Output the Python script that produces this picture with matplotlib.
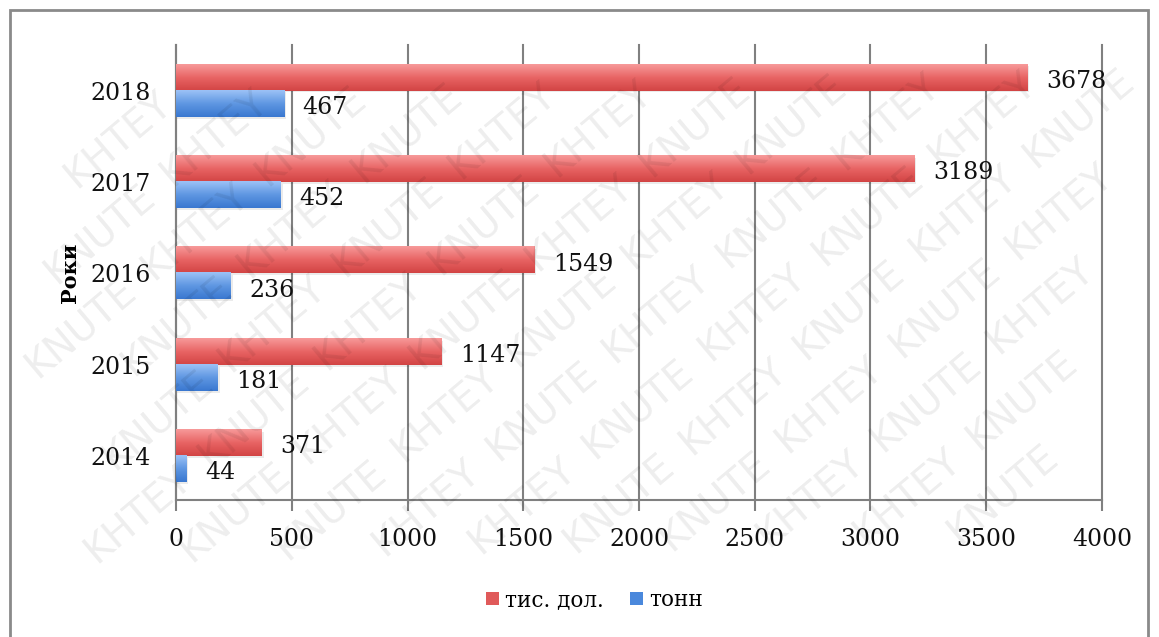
import numpy as np
import matplotlib
matplotlib.use("Agg")
from matplotlib import pyplot as plt
from matplotlib.colors import LinearSegmentedColormap
from matplotlib.patches import Rectangle

years = ["2014", "2015", "2016", "2017", "2018"]
usd_thousand = [371, 1147, 1549, 3189, 3678]   # тис. дол.
tonnes = [44, 181, 236, 452, 467]              # тонн

plt.rcParams['font.family'] = ['DejaVu Serif']

W, H = 1159, 637
fig = plt.figure(figsize=(W / 100, H / 100), dpi=100)
ax = fig.add_axes([0.1519, 0.2151, 0.7989, 0.7143])

y = np.arange(len(years))
h = 0.285
red_bars = ax.barh(y + h / 2, usd_thousand, height=h, color="#e05a5a", zorder=3)
blue_bars = ax.barh(y - h / 2, tonnes, height=h, color="#4a88dc", zorder=3)

red_cmap = LinearSegmentedColormap.from_list("r", ["#f79a9a", "#e86464", "#d24444"])
blue_cmap = LinearSegmentedColormap.from_list("b", ["#9cc2f6", "#5f97e2", "#3a78d0"])
grad = np.linspace(0, 1, 64).reshape(-1, 1)

def shade(bars, cmap):
    # vertical gradient (light on top) plus a faint drop shadow
    for r in bars:
        x0, y0, w, hh = r.get_x(), r.get_y(), r.get_width(), r.get_height()
        ax.add_patch(Rectangle((x0, y0 - 0.02), w + 8, hh, color="#000000",
                               alpha=0.08, lw=0, zorder=2))
        ax.imshow(grad, cmap=cmap, aspect="auto", zorder=3.5,
                  extent=[x0, x0 + w, y0, y0 + hh], origin="upper")

shade(red_bars, red_cmap)
shade(blue_bars, blue_cmap)

for bars, vals in ((red_bars, usd_thousand), (blue_bars, tonnes)):
    for r, v in zip(bars, vals):
        ax.text(r.get_width() + 80, r.get_y() + r.get_height() / 2 - 0.04, str(v),
                ha="left", va="center", fontsize=17, color="#111111", zorder=5)

ax.set_xlim(0, 4000)
ax.set_ylim(-0.48, 4.5)
ax.set_xticks(np.arange(0, 4001, 500))
ax.set_yticks(y)
ax.set_yticklabels(years)
ax.xaxis.grid(True, color="#808080", lw=1.5, zorder=1)
for gl in ax.get_xgridlines():
    gl.set_clip_on(False)
ax.set_axisbelow(True)
for s in ("top", "right"):
    ax.spines[s].set_visible(False)
for s in ("left", "bottom"):
    ax.spines[s].set_color("#808080")
    ax.spines[s].set_linewidth(1.5)
ax.tick_params(axis="x", direction="out", length=8, width=1.5, color="#808080",
               pad=12, labelsize=17, labelcolor="#111111")
ax.tick_params(axis="y", length=0, pad=18, labelsize=17, labelcolor="#111111")
ax.set_ylabel("Роки", fontsize=15, fontweight="bold", labelpad=8)

fig.legend(handles=[red_bars, blue_bars], labels=["тис. дол.", "тонн"],
           loc="center", bbox_to_anchor=(0.513, 0.058), ncol=2, frameon=False,
           fontsize=15.5, handlelength=0.6, handleheight=0.6,
           handletextpad=0.3, columnspacing=1.2)

# outer frame
fig.add_artist(Rectangle((10 / W, -0.05), 1138 / W, 1 - 10 / H + 0.05,
                         transform=fig.transFigure, fill=False,
                         edgecolor="#8a8a8a", lw=2))

# diagonal watermark, one word per text so that none runs off the edge
deg = 40
ang = np.deg2rad(deg)
u = np.array([np.cos(ang), np.sin(ang)])
n = np.array([-np.sin(ang), np.cos(ang)])
word_len, word_h = 134, 30
bw = word_len * np.cos(ang) + word_h * np.sin(ang)
bh = word_len * np.sin(ang) + word_h * np.cos(ang)
for j in range(-25, 26):
    for i in range(-25, 26):
        cx, cy = np.array([560, 320]) + (i + 0.5 * (j % 2)) * 150 * u + j * 60 * n
        if bw / 2 + 1 < cx < W - bw / 2 - 1 and bh / 2 + 1 < cy < H - bh / 2 - 1:
            fig.text(cx / W, cy / H, "KNUTE" if (i + j) % 2 == 0 else "KHTEY",
                     rotation=deg, ha="center", va="center", fontsize=28,
                     family="DejaVu Sans", color="#000000",
                     alpha=0.07, zorder=10)

fig.savefig("out.png", dpi=100)
